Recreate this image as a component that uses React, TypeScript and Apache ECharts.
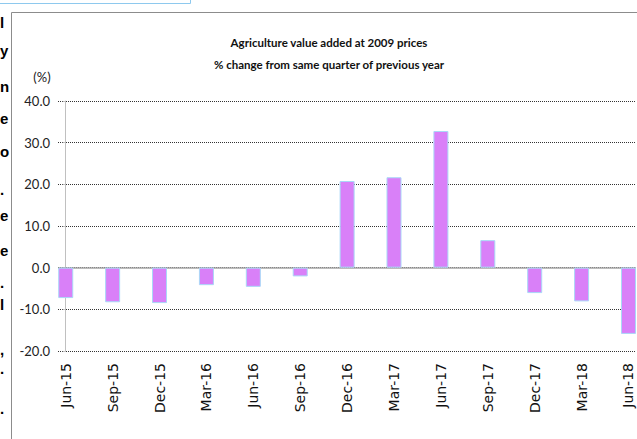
import React, { useEffect, useRef } from "react";
import * as echarts from "echarts";

// Quarterly growth of agriculture value added (2009 prices), % y/y
const categories = [
  "Jun-15", "Sep-15", "Dec-15", "Mar-16", "Jun-16", "Sep-16", "Dec-16",
  "Mar-17", "Jun-17", "Sep-17", "Dec-17", "Mar-18", "Jun-18",
];
const growth = [-7.3, -8.3, -8.5, -4.2, -4.6, -2.1, 20.8, 21.7, 32.8, 6.6, -6.1, -8.1, -15.9];

const yMin = -20;
const yMax = 40;
const yStep = 10;

const titleLines = [
  "Agriculture value added at 2009 prices",
  "% change from same quarter of previous year",
];
const unitLabel = "(%)";

// Line endings of the neighbouring page text that runs into the left margin
const marginGlyphs = [
  { ch: "l", y: 22 },
  { ch: "y", y: 50 },
  { ch: "n", y: 86 },
  { ch: "e", y: 118 },
  { ch: "o", y: 151 },
  { ch: ".", y: 189 },
  { ch: "e", y: 215 },
  { ch: "e", y: 250 },
  { ch: ".", y: 282 },
  { ch: "l", y: 304 },
  { ch: ",", y: 349 },
  { ch: ".", y: 368 },
  { ch: ".", y: 408 },
];

const humanist = "Lato, 'DejaVu Sans Condensed', sans-serif";

export default function App() {
  const ref = useRef<HTMLDivElement>(null);

  useEffect(() => {
    if (!ref.current) return;
    const chart = echarts.init(ref.current, null, { renderer: "svg" });

    chart.setOption({
      animation: false,
      backgroundColor: "#ffffff",
      title: {
        text: titleLines.join("\n"),
        left: 324,
        top: 26,
        textAlign: "center",
        textStyle: {
          fontFamily: humanist,
          fontWeight: "bold",
          fontSize: 11.5,
          lineHeight: 22,
          color: "#111",
        },
      },
      grid: { left: 58, right: 1, top: 101, bottom: 88 },
      xAxis: {
        type: "value",
        min: -0.165,
        max: 12.16,
        splitLine: { show: false },
        axisLine: { show: false },
        axisTick: { show: false },
        axisLabel: {
          customValues: categories.map((_, i) => i),
          formatter: (v: number) => categories[Math.round(v)] ?? "",
          rotate: 90,
          margin: 12,
          fontFamily: "'DejaVu Sans', Verdana, sans-serif",
          fontSize: 14,
          color: "#111",
        },
      },
      yAxis: {
        type: "value",
        min: yMin,
        max: yMax,
        interval: yStep,
        name: unitLabel,
        nameLocation: "end",
        nameGap: 18,
        nameTextStyle: {
          fontFamily: humanist,
          fontSize: 13,
          color: "#222",
          align: "right",
          padding: [0, 15, 0, 0],
        },
        axisLine: { show: true, lineStyle: { color: "#c0c0c0", width: 1 } },
        axisTick: { show: true, length: 3, lineStyle: { color: "#c0c0c0" } },
        axisLabel: {
          formatter: (v: number) => v.toFixed(1),
          fontFamily: humanist,
          fontSize: 13,
          color: "#222",
          margin: 8,
        },
        splitLine: {
          show: true,
          lineStyle: { type: [1, 1], color: "#333", width: 1 },
        },
      },
      series: [
        {
          type: "bar",
          data: growth.map((v, i) => [i, v]),
          barWidth: 15,
          itemStyle: {
            color: "#d980f8",
            borderColor: "#a9d8f7",
            borderWidth: 1,
          },
          markLine: {
            silent: true,
            symbol: "none",
            label: { show: false },
            lineStyle: { type: "solid", color: "#a6a6a6", width: 1.5 },
            data: [{ yAxis: 0 }],
            z: 1,
          },
        },
      ],
      graphic: [
        // outer chart frame (top and left edges)
        {
          type: "line",
          shape: { x1: 11.5, y1: 12.5, x2: 637, y2: 12.5 },
          style: { stroke: "#8c8c8c", lineWidth: 1 },
        },
        {
          type: "line",
          shape: { x1: 11.5, y1: 12.5, x2: 11.5, y2: 439 },
          style: { stroke: "#8c8c8c", lineWidth: 1 },
        },
        // caption box above the chart
        {
          type: "rect",
          shape: { x: -2, y: -2, width: 192.5, height: 5.5 },
          style: { stroke: "#8ec9ee", fill: "none", lineWidth: 1 },
        },
        ...marginGlyphs.map((g) => ({
          type: "text",
          x: 0,
          y: g.y,
          style: {
            text: g.ch,
            fill: "#000",
            fontFamily: "'Liberation Sans', Arial, sans-serif",
            fontWeight: "bold",
            fontSize: 15,
            textAlign: "left",
            textVerticalAlign: "middle",
          },
        })),
      ],
    });

    return () => chart.dispose();
  }, []);

  return (
    <div
      ref={ref}
      style={{ position: "fixed", left: 0, top: 0, width: 637, height: 439 }}
    />
  );
}
